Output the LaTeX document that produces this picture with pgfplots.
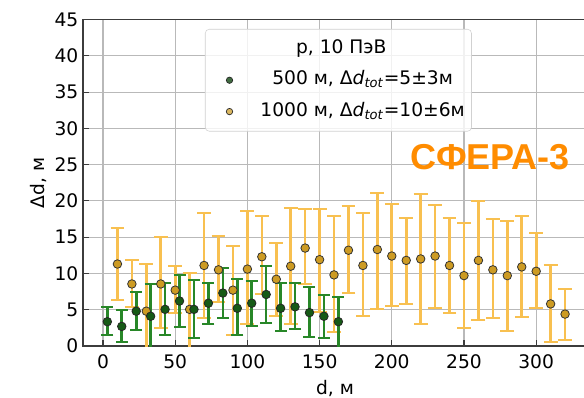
\documentclass[border=0pt]{standalone}
\usepackage{pgfplots}
\pgfplotsset{compat=1.18}
\usepackage{pgfplotstable}
\usepackage{fontspec}
\setmainfont{DejaVu Sans}
\newfontfamily\sferafont{Liberation Sans}

\definecolor{obar}{RGB}{248,192,80}
\definecolor{omark}{RGB}{205,155,35}
\definecolor{gbar}{RGB}{40,135,40}
\definecolor{gmark}{RGB}{22,90,22}
\definecolor{gridc}{RGB}{185,185,185}
\definecolor{spine}{RGB}{60,60,60}
\definecolor{sfera}{RGB}{255,140,0}

\pgfplotstableread{
x y top bot
3 3.35 5.4 1.5
13 2.7 5.0 0.5
23 4.8 7.5 2.2
33 4.1 8.5 -2
43 5.05 8.7 1.5
53 6.2 9.8 2.6
63 5.05 9.1 1.05
73 5.9 8.7 3.0
83 7.3 10.8 3.8
93 5.2 9.2 1.5
103 5.9 8.95 2.75
113 7.1 11.0 3.2
123 5.2 8.7 2.1
133 5.4 8.7 2.3
143 4.6 8.1 1.3
153 4.1 7.0 1.05
163 3.35 6.8 -2
}\green

\pgfplotstableread{
x y top bot
10 11.3 16.2 6.4
20 8.55 11.9 5.4
30 4.8 11.3 -2
40 8.55 15.0 2.45
50 7.7 11.0 4.6
60 5.05 10.0 -2
70 11.1 18.3 3.8
80 10.5 15.1 6.0
90 7.7 13.8 1.5
100 10.6 18.6 3.1
110 12.3 17.9 7.2
120 9.2 14.2 4.1
130 11.0 19.0 3.1
140 13.5 18.9 8.5
150 11.9 18.9 4.7
160 9.8 17.9 1.9
170 13.2 19.3 7.3
180 11.1 18.3 4.2
190 13.3 21.1 5.1
200 12.4 19.6 5.5
210 11.8 17.6 5.8
220 12.0 20.9 3.1
230 12.4 19.4 5.2
240 11.1 17.7 4.6
250 9.7 16.9 2.5
260 11.8 20.0 3.6
270 10.5 17.5 3.8
280 9.7 17.2 2.1
290 10.9 17.9 4.0
300 10.3 15.6 5.2
310 5.8 11.1 0.6
320 4.4 7.8 0.8
}\orange

\begin{document}
\begin{tikzpicture}
\begin{axis}[
  name=ax,
  at={(0,0)}, anchor=south west,
  scale only axis,
  width=378pt, height=244.875pt,
  xmin=-13.85, xmax=335.2,
  ymin=0, ymax=45,
  xtick={0,50,100,150,200,250,300},
  ytick={0,5,10,15,20,25,30,35,40,45},
  tick pos=left,
  tick align=inside,
  major tick length=4.5pt,
  every tick/.style={spine, line width=0.8pt},
  axis line style={spine, line width=1pt},
  grid=major,
  major grid style={gridc, line width=0.8pt},
  /pgf/number format/assume math mode=true,
  tick label style={font=\fontsize{14}{16}\selectfont},
  xticklabel style={yshift=-3pt},
  every axis y label/.style={at={(axis description cs:-0.0893,0.5)}, anchor=center, rotate=90, font=\fontsize{14}{16}\selectfont},
  every axis x label/.style={at={(axis description cs:0.5,-0.1286)}, anchor=center, font=\fontsize{14}{16}\selectfont},
  xlabel={d, м},
  ylabel={Δd, м},
  legend cell align=center,
  legend image code/.code={\path (-15pt,0pt) (21pt,0pt); \draw[#1] plot coordinates {(0pt,0pt)};},
  legend style={
    at={(0.242,0.971)}, anchor=north west,
    fill=white, fill opacity=0.8, text opacity=1,
    draw=black!18, rounded corners=3pt,
    inner xsep=3pt, inner ysep=3pt,
    row sep=0pt,
    font=\fontsize{14}{16}\selectfont,
    nodes={inner ysep=4.75pt, text height=10.5pt, text depth=3.5pt},
  },
]
\addlegendimage{empty legend}
\addlegendentry{\hspace*{-32pt}p, 10 ПэВ}
\addlegendimage{only marks, mark=*, mark size=2.4pt, mark options={fill=gmark!80!black, draw=black!85, line width=0.5pt}}
\addlegendentry{500 м, Δ\textit{d}\textsubscript{\textit{tot}}=5±3м}
\addlegendimage{only marks, mark=*, mark size=2.4pt, mark options={fill=omark!90!white, draw=black!85, line width=0.5pt}}
\addlegendentry{1000 м, Δ\textit{d}\textsubscript{\textit{tot}}=10±6м}

\addplot[forget plot, only marks, mark=*, mark size=3.2pt,
  mark options={fill=omark, draw=black!80, line width=0.6pt},
  error bars/.cd, y dir=both, y explicit,
  error bar style={obar, line width=2pt},
  error mark options={rotate=90, mark size=5.2pt, obar, line width=1.5pt}]
  table[x=x, y=y, y error plus expr=\thisrow{top}-\thisrow{y}, y error minus expr=\thisrow{y}-\thisrow{bot}] {\orange};

\addplot[forget plot, only marks, mark=*, mark size=3.2pt,
  mark options={fill=gmark, draw=black!85, line width=0.6pt},
  error bars/.cd, y dir=both, y explicit,
  error bar style={gbar, line width=2pt},
  error mark options={rotate=90, mark size=4.5pt, gbar, line width=1.5pt}]
  table[x=x, y=y, y error plus expr=\thisrow{top}-\thisrow{y}, y error minus expr=\thisrow{y}-\thisrow{bot}] {\green};

\node[font=\sferafont\bfseries\fontsize{27}{30}\selectfont, text=sfera, anchor=center]
  at (rel axis cs:0.8075,0.579) {СФЕРА-3};
\end{axis}
\pgfresetboundingbox
\useasboundingbox (-62.25pt,-38.25pt) rectangle (375.75pt,259.5pt);
\end{tikzpicture}
\end{document}
